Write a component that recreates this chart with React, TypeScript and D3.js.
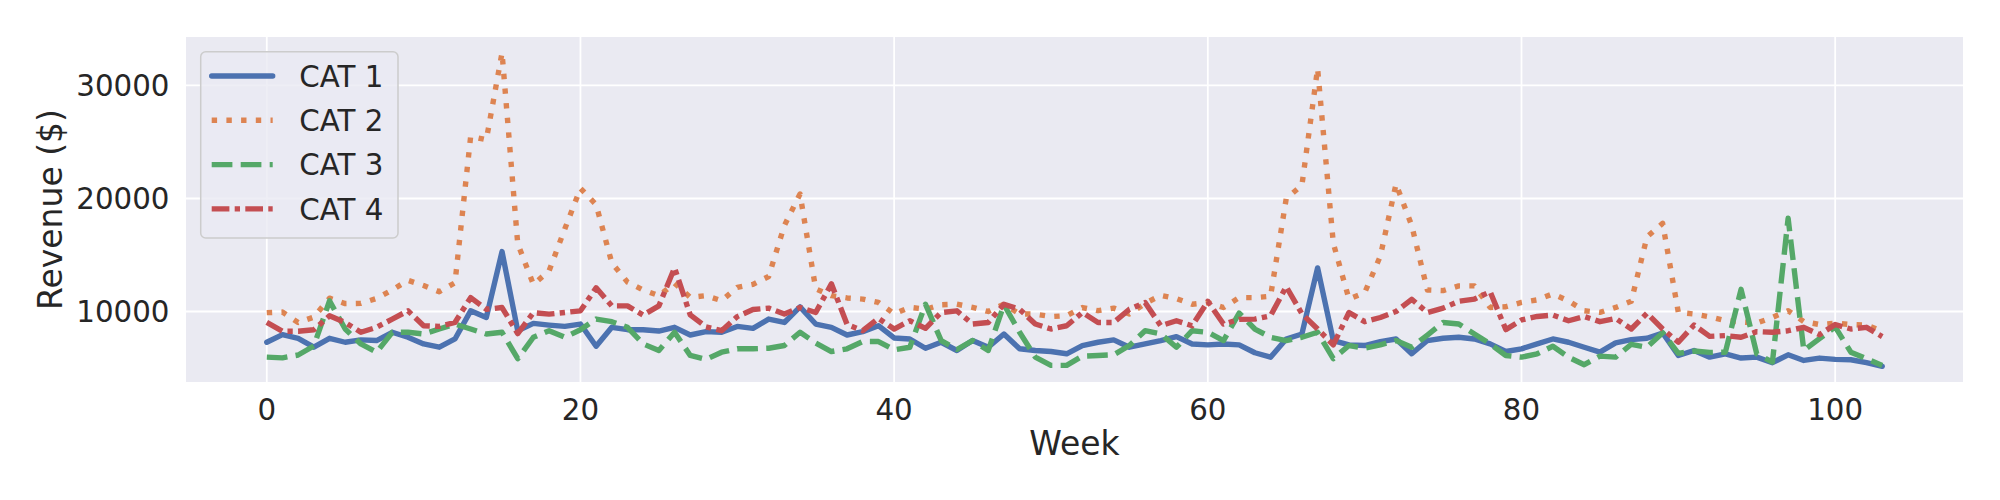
import React from 'react';
import * as d3 from 'd3';

// weekly revenue per category
const cat1 = [7280, 7950, 7630, 6840, 7630, 7280, 7490, 7430, 8160, 7720,
  7130, 6840, 7570, 10060, 9470, 15300, 8300, 8950, 8800, 8680,
  8890, 6930, 8600, 8390, 8390, 8270, 8600, 7920, 8220, 8160,
  8680, 8510, 9330, 9030, 10410, 8890, 8600, 7920, 8220, 8740,
  7660, 7570, 6750, 7280, 6550, 7430, 6840, 8010, 6700, 6550,
  6460, 6260, 6990, 7280, 7490, 6840, 7130, 7430, 7780, 7130,
  7050, 7130, 7050, 6350, 5960, 7570, 8010, 13860, 7430, 7050,
  6990, 7340, 7570, 6260, 7430, 7630, 7720, 7570, 7130, 6460,
  6700, 7130, 7570, 7280, 6840, 6400, 7220, 7510, 7630, 8100,
  6110, 6550, 5960, 6260, 5880, 5960, 5470, 6170, 5670, 5880,
  5760, 5730, 5470, 5150];

const cat2 = [9900, 9950, 9030, 9500, 11180, 10700, 10720, 11150, 11900, 12760,
  12300, 11750, 12540, 25500, 25200, 32900, 16000, 12400, 13600, 17300,
  20900, 19450, 14300, 12600, 11900, 11400, 12500, 11250, 11400, 10960,
  12130, 12400, 13100, 17600, 20400, 12000, 11400, 11200, 11100, 10800,
  9800, 10370, 10200, 10600, 10650, 10370, 10000, 10650, 9780, 9770,
  9550, 9630, 10350, 10070, 10300, 9780, 10720, 11430, 11140, 10640,
  10790, 10350, 11230, 11230, 11350, 20000, 21170, 31500, 16050, 11100,
  11660, 14900, 21280, 17600, 11900, 11850, 12270, 12270, 10360, 10420,
  10800, 11030, 11560, 10930, 10070, 9920, 10360, 10900, 16600, 17800,
  9920, 9780, 9530, 9190, 9080, 8980, 9480, 10070, 9110, 8850,
  8970, 8850, 8790, 8250];

const cat3 = [5960, 5900, 6150, 6950, 10940, 8450, 7130, 6400, 8160, 8160,
  8010, 8450, 8890, 8450, 8010, 8160, 5820, 7720, 8300, 7720,
  8390, 9330, 9100, 8600, 7130, 6550, 8160, 6110, 5760, 6400,
  6700, 6700, 6750, 6990, 8160, 7220, 6460, 6700, 7340, 7340,
  6610, 6840, 10640, 7430, 6640, 7430, 6550, 10600, 8160, 5960,
  5230, 5230, 6050, 6110, 6170, 6990, 8300, 8010, 6840, 8300,
  8160, 7430, 9850, 8450, 7720, 7430, 7720, 8160, 5820, 6990,
  6750, 7050, 7430, 6840, 7920, 9030, 8890, 8010, 7130, 6110,
  5960, 6260, 6930, 5960, 5290, 6050, 5960, 7100, 6840, 8120,
  6300, 6500, 6380, 6400, 11960, 6260, 5530, 18250, 6550, 7600,
  8640, 6400, 5820, 5230];

const cat4 = [9030, 8250, 8250, 8390, 9620, 9030, 8160, 8600, 9330, 10060,
  8740, 8680, 9030, 11230, 10200, 10350, 8050, 9900, 9770, 9910,
  10060, 12100, 10500, 10500, 9680, 10500, 13860, 9700, 8650, 8300,
  9550, 10180, 10300, 9770, 10350, 9910, 12450, 8850, 8300, 9400,
  8450, 9180, 8510, 9910, 10060, 8890, 9030, 10640, 10200, 8890,
  8450, 8740, 9910, 9030, 9030, 10200, 10790, 8740, 9180, 8740,
  10900, 8890, 9300, 9330, 9620, 12200, 9800, 8450, 7050, 9910,
  9100, 9470, 10000, 11080, 9910, 10300, 10900, 11100, 11750, 8400,
  9250, 9560, 9680, 9180, 9560, 9100, 9390, 8450, 9850, 8450,
  7280, 8800, 7800, 7870, 7720, 8220, 8160, 8300, 8600, 7950,
  8850, 8450, 8600, 7780];

const seriesNames = ['CAT 1', 'CAT 2', 'CAT 3', 'CAT 4'];
const seriesValues = [cat1, cat2, cat3, cat4];
const xTicks = [0, 20, 40, 60, 80, 100];
const yTicks = [10000, 20000, 30000];

const colors = ['#4C72B0', '#DD8452', '#55A868', '#C44E52'];
const dashes = ['', '5.4 9.3', '20.7 8.3', '17.7 5.3 5.3 5.3'];

const width = 2000;
const height = 500;
const plot = { left: 186, right: 1963, top: 37, bottom: 382 };
const font = '"DejaVu Sans", sans-serif';
const textColor = '#262626';

// matplotlib style 5% padding
const pad = (lo: number, hi: number): [number, number] => {
  const m = (hi - lo) * 0.05;
  return [lo - m, hi + m];
};

export default function App() {
  const n = cat1.length;
  const allVals = seriesValues.flat();
  const [yMin, yMax] = d3.extent(allVals) as [number, number];

  const x = d3.scaleLinear().domain(pad(0, n - 1)).range([plot.left, plot.right]);
  const y = d3.scaleLinear().domain(pad(yMin, yMax)).range([plot.bottom, plot.top]);

  const line = d3
    .line<number>()
    .x((_, i) => x(i))
    .y((d) => y(d));

  const legend = { x: 200.7, y: 51.7, w: 197.3, h: 186.3, rowGap: 44.3, firstRow: 76 };

  return (
    <div style={{ position: 'absolute', left: 0, top: 0 }}>
      <svg width={width} height={height} style={{ background: '#fff', display: 'block' }}>
        <rect
          x={plot.left}
          y={plot.top}
          width={plot.right - plot.left}
          height={plot.bottom - plot.top}
          fill="#EAEAF2"
        />
        {/* grid */}
        {xTicks.map((t) => (
          <line key={'gx' + t} x1={x(t)} x2={x(t)} y1={plot.top} y2={plot.bottom} stroke="#fff" strokeWidth={1.8} />
        ))}
        {yTicks.map((t) => (
          <line key={'gy' + t} x1={plot.left} x2={plot.right} y1={y(t)} y2={y(t)} stroke="#fff" strokeWidth={1.8} />
        ))}

        {/* series */}
        <g>
          {seriesValues.map((vals, i) => (
            <path
              key={seriesNames[i]}
              d={line(vals) ?? ''}
              fill="none"
              stroke={colors[i]}
              strokeWidth={5.4}
              strokeDasharray={dashes[i] || undefined}
              strokeLinecap={i === 0 ? 'round' : 'butt'}
              strokeLinejoin="round"
            />
          ))}
        </g>

        {/* tick labels */}
        <g fontFamily={font} fontSize={29.3} fill={textColor}>
          {xTicks.map((t) => (
            <text key={'tx' + t} x={x(t)} y={419.5} textAnchor="middle">
              {t}
            </text>
          ))}
          {yTicks.map((t) => (
            <text key={'ty' + t} x={169.5} y={y(t) + 10.7} textAnchor="end">
              {t}
            </text>
          ))}
        </g>

        {/* axis labels */}
        <g fontFamily={font} fontSize={33} fill={textColor}>
          <text x={(plot.left + plot.right) / 2} y={455} textAnchor="middle">
            Week
          </text>
          <text
            transform={`translate(62,${(plot.top + plot.bottom) / 2}) rotate(-90)`}
            textAnchor="middle"
          >
            Revenue ($)
          </text>
        </g>

        {/* legend */}
        <g>
          <rect
            x={legend.x}
            y={legend.y}
            width={legend.w}
            height={legend.h}
            rx={5}
            fill="#EAEAF2"
            fillOpacity={0.8}
            stroke="#cccccc"
            strokeWidth={1.5}
          />
          {seriesNames.map((name, i) => {
            const ly = legend.firstRow + i * legend.rowGap;
            return (
              <g key={'lg' + name}>
                <line
                  x1={211.7}
                  x2={272.7}
                  y1={ly}
                  y2={ly}
                  stroke={colors[i]}
                  strokeWidth={5.4}
                  strokeDasharray={dashes[i] || undefined}
                  strokeLinecap={i === 0 ? 'round' : 'butt'}
                />
                <text x={299.3} y={ly + 10.7} fontFamily={font} fontSize={29.3} fill={textColor}>
                  {name}
                </text>
              </g>
            );
          })}
        </g>
      </svg>
    </div>
  );
}
